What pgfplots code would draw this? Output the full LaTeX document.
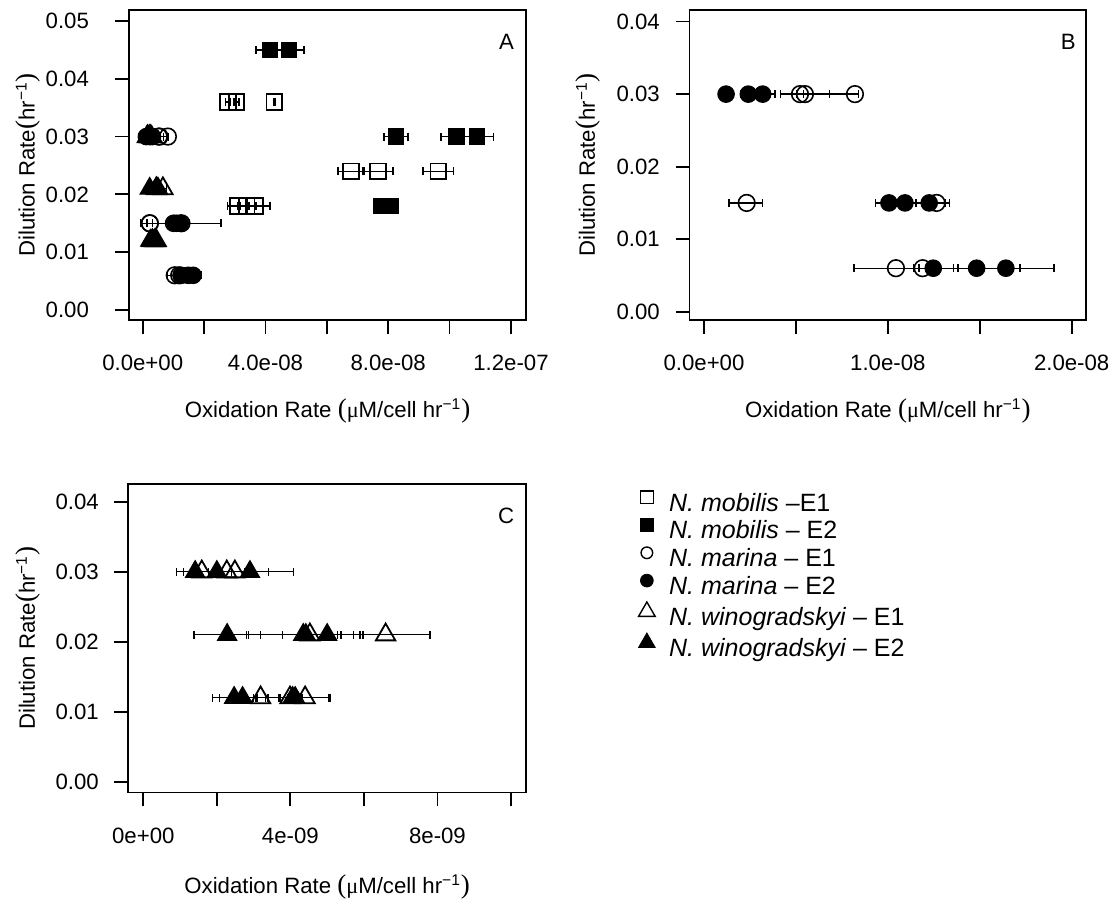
\documentclass[border=0pt]{standalone}
\usepackage{fontspec}
\setmainfont{Liberation Sans}
\newfontfamily\serifpar{Liberation Serif}
\usepackage{pgfplots}
\usepackage{pgfplotstable}
\pgfplotsset{compat=1.18}

\newcommand{\lp}{{\serifpar\fontsize{13.5}{14}\selectfont(}}
\newcommand{\rp}{{\serifpar\fontsize{13.5}{14}\selectfont)}}
\newcommand{\xlab}{Oxidation Rate \lp{\serifpar μ}M/cell hr\textsuperscript{−1}\rp}
\newcommand{\ylab}{Dilution Rate\lp hr\textsuperscript{−1}\rp}
\newcommand{\fs}{\fontsize{11.1}{13}\selectfont}

% columns: x, y, error plus, error minus
\pgfplotstableread{
x y ep em
2.78e-8 0.036 0.08e-8 0.08e-8
3.06e-8 0.036 0.08e-8 0.08e-8
4.29e-8 0.036 0.02e-8 0.02e-8
3.11e-8 0.018 0.35e-8 0.35e-8
3.39e-8 0.018 0.30e-8 0.30e-8
3.66e-8 0.018 0.49e-8 0.49e-8
6.79e-8 0.024 0.42e-8 0.42e-8
7.67e-8 0.024 0.49e-8 0.49e-8
9.63e-8 0.024 0.50e-8 0.50e-8
}\mobA
\pgfplotstableread{
x y ep em
4.15e-8 0.045 0.46e-8 0.46e-8
4.77e-8 0.045 0.49e-8 0.49e-8
8.25e-8 0.030 0.39e-8 0.39e-8
10.23e-8 0.030 0.51e-8 0.51e-8
10.89e-8 0.030 0.55e-8 0.55e-8
7.79e-8 0.018 0.05e-8 0.05e-8
7.93e-8 0.018 0.05e-8 0.05e-8
8.07e-8 0.018 0.05e-8 0.05e-8
}\mobB
\pgfplotstableread{
x y ep em
5.22e-9 0.030 0.2e-9 0.2e-9
5.49e-9 0.030 1.32e-9 1.32e-9
8.21e-9 0.030 0.2e-9 1.40e-9
2.32e-9 0.015 0.87e-9 0.96e-9
12.65e-9 0.015 0.69e-9 0.69e-9
10.44e-9 0.006 2.28e-9 2.28e-9
11.89e-9 0.006 0.2e-9 0.2e-9
}\marA
\pgfplotstableread{
x y ep em
1.20e-9 0.030 0.1e-9 0.1e-9
2.41e-9 0.030 0.4e-9 0.4e-9
3.19e-9 0.030 0.67e-9 0.67e-9
10.06e-9 0.015 0.72e-9 0.72e-9
10.93e-9 0.015 0.60e-9 0.60e-9
12.25e-9 0.015 0.90e-9 0.90e-9
12.47e-9 0.006 1.09e-9 1.09e-9
14.83e-9 0.006 2.35e-9 2.35e-9
16.42e-9 0.006 2.61e-9 2.61e-9
}\marB
\pgfplotstableread{
x y ep em
1.59e-9 0.030 0.5e-9 0.5e-9
2.27e-9 0.030 0.5e-9 0.5e-9
2.49e-9 0.030 1.59e-9 1.40e-9
4.53e-9 0.021 0.75e-9 0.75e-9
6.59e-9 0.021 1.21e-9 1.21e-9
3.19e-9 0.012 0.2e-9 0.2e-9
3.99e-9 0.012 0.3e-9 0.3e-9
4.40e-9 0.012 0.68e-9 0.68e-9
}\winA
\pgfplotstableread{
x y ep em
1.41e-9 0.030 0.5e-9 0.5e-9
2.00e-9 0.030 0.9e-9 0.9e-9
2.90e-9 0.030 0.5e-9 0.5e-9
2.28e-9 0.021 0.9e-9 0.9e-9
4.35e-9 0.021 1.54e-9 1.54e-9
4.42e-9 0.021 1.56e-9 1.56e-9
5.00e-9 0.021 0.71e-9 0.71e-9
2.47e-9 0.012 0.58e-9 0.58e-9
2.70e-9 0.012 0.63e-9 0.63e-9
4.06e-9 0.012 0.97e-9 0.97e-9
4.13e-9 0.012 0.2e-9 0.2e-9
}\winB

\pgfplotsset{
  panel/.style={
    scale only axis,
    axis line style={line width=0.9pt},
    every tick/.style={black, line width=0.9pt},
    tick align=outside,
    major tick length=7pt,
    xtick pos=lower, ytick pos=left,
    xticklabel style={font=\fs, yshift=-7.2pt},
    yticklabel style={font=\fs},
    scaled x ticks=false, scaled y ticks=false,
    clip=false,
    xlabel={\xlab}, ylabel={\ylab},
  },
  xerr/.style={
    /pgfplots/error bars/x dir=both,
    /pgfplots/error bars/x explicit,
    /pgfplots/error bars/error bar style={line width=0.7pt, black},
    /pgfplots/error bars/error mark options={black, line width=0.7pt, mark size=2pt, rotate=90},
  },
  sqo/.style={only marks, black, mark=square, mark size=3.9pt, mark options={line width=0.9pt}},
  sqf/.style={only marks, black, mark=square*, mark size=3.9pt, mark options={line width=0.5pt}},
  cio/.style={only marks, black, mark=o, mark size=4.15pt, mark options={line width=0.8pt}},
  cif/.style={only marks, black, mark=*, mark size=4.15pt, mark options={line width=0.5pt}},
  tro/.style={only marks, black, mark=triangle, mark size=5.6pt, mark options={line width=0.9pt}},
  trf/.style={only marks, black, mark=triangle*, mark size=5.6pt, mark options={line width=0.5pt}},
}

\begin{document}
\begin{tikzpicture}
\useasboundingbox (0,0) rectangle (558.5pt,451.5pt);

% ---------- Panel A ----------
\begin{axis}[panel,
  at={(64.5pt,291.5pt)}, anchor=south west,
  width=198.5pt, height=155pt,
  xmin=-0.446e-8, xmax=12.49e-8,
  ymin=-0.00173, ymax=0.0519,
  xtick={0,2e-8,4e-8,6e-8,8e-8,1e-7,1.2e-7},
  xticklabels={0.0e+00,,4.0e-08,,8.0e-08,,1.2e-07},
  ytick={0,0.01,0.02,0.03,0.04,0.05},
  yticklabels={0.00,0.01,0.02,0.03,0.04,0.05},
  yticklabel style={xshift=-9.5pt},
  every axis x label/.style={at={(axis description cs:0.5,-0.295)}, anchor=center, font=\fs},
  every axis y label/.style={at={(axis description cs:-0.254,0.5)}, anchor=center, rotate=90, font=\fs},
]
\addplot[sqo, xerr] table[x=x, y=y, x error plus=ep, x error minus=em] {\mobA};
\addplot[sqf, xerr] table[x=x, y=y, x error plus=ep, x error minus=em] {\mobB};
\addplot[cio, xerr] table[x=x, y=y, x error plus=ep, x error minus=em] {\marA};
\addplot[cio, xerr] coordinates {(2.32e-9,0.015) += (23.2e-9,0) -= (2.97e-9,0)};
\addplot[cif, xerr] table[x=x, y=y, x error plus=ep, x error minus=em] {\marB};
\addplot[tro, xerr] table[x=x, y=y, x error plus=ep, x error minus=em] {\winA};
\addplot[trf, xerr] table[x=x, y=y, x error plus=ep, x error minus=em] {\winB};
\node[font=\fs] at (axis description cs:0.951,0.898) {A};
\end{axis}

% ---------- Panel B ----------
\begin{axis}[panel,
  at={(344.75pt,291.5pt)}, anchor=south west,
  width=198.25pt, height=155pt,
  xmin=-0.789e-9, xmax=20.78e-9,
  ymin=-0.00114, ymax=0.0416,
  xtick={0,5e-9,1e-8,1.5e-8,2e-8},
  xticklabels={0.0e+00,,1.0e-08,,2.0e-08},
  ytick={0,0.01,0.02,0.03,0.04},
  yticklabels={0.00,0.01,0.02,0.03,0.04},
  yticklabel style={xshift=-4.3pt},
  every axis x label/.style={at={(axis description cs:0.5,-0.295)}, anchor=center, font=\fs},
  every axis y label/.style={at={(axis description cs:-0.255,0.5)}, anchor=center, rotate=90, font=\fs},
]
\addplot[cio, xerr] table[x=x, y=y, x error plus=ep, x error minus=em] {\marA};
\addplot[cif, xerr] table[x=x, y=y, x error plus=ep, x error minus=em] {\marB};
\node[font=\fs] at (axis description cs:0.955,0.898) {B};
\end{axis}

% ---------- Panel C ----------
\begin{axis}[panel,
  at={(64.15pt,55.25pt)}, anchor=south west,
  width=198.85pt, height=154.35pt,
  xmin=-0.408e-9, xmax=10.408e-9,
  ymin=-0.00154, ymax=0.04257,
  xtick={0,2e-9,4e-9,6e-9,8e-9,1e-8},
  xticklabels={0e+00,,4e-09,,8e-09,},
  ytick={0,0.01,0.02,0.03,0.04},
  yticklabels={0.00,0.01,0.02,0.03,0.04},
  yticklabel style={xshift=-4.2pt},
  every axis x label/.style={at={(axis description cs:0.5,-0.305)}, anchor=center, font=\fs},
  every axis y label/.style={at={(axis description cs:-0.2515,0.5)}, anchor=center, rotate=90, font=\fs},
  legend style={at={(axis description cs:1.282,0.978)}, anchor=north west,
    draw=none, fill=none, inner sep=0pt, row sep=0pt, column sep=7pt,
    font=\fontsize{12.5}{14.5}\selectfont,
    nodes={inner sep=0pt, text height=10pt, text depth=3.8pt}},
  legend image post style={yshift=3.8pt},
  legend cell align=left,
]
\addplot[tro, xerr, forget plot] table[x=x, y=y, x error plus=ep, x error minus=em] {\winA};
\addplot[trf, xerr, forget plot] table[x=x, y=y, x error plus=ep, x error minus=em] {\winB};
\node[font=\fs] at (axis description cs:0.95,0.895) {C};
\addlegendimage{only marks, black, mark=square, mark size=3.2pt, mark options={line width=0.7pt}}
\addlegendentry{\textit{N. mobilis} –E1}
\addlegendimage{only marks, black, mark=square*, mark size=3.2pt}
\addlegendentry{\textit{N. mobilis} – E2}
\addlegendimage{only marks, black, mark=o, mark size=2.9pt, mark options={line width=0.7pt}}
\addlegendentry{\textit{N. marina} – E1}
\addlegendimage{only marks, black, mark=*, mark size=3.2pt}
\addlegendentry{\textit{N. marina} – E2}
\addlegendimage{only marks, black, mark=triangle, mark size=4.8pt, mark options={line width=0.7pt}}
\addlegendentry{\textit{N. winogradskyi} – E1}
\addlegendimage{only marks, black, mark=triangle*, mark size=4.8pt}
\addlegendentry{\textit{N. winogradskyi} – E2}
\end{axis}
\end{tikzpicture}
\end{document}
